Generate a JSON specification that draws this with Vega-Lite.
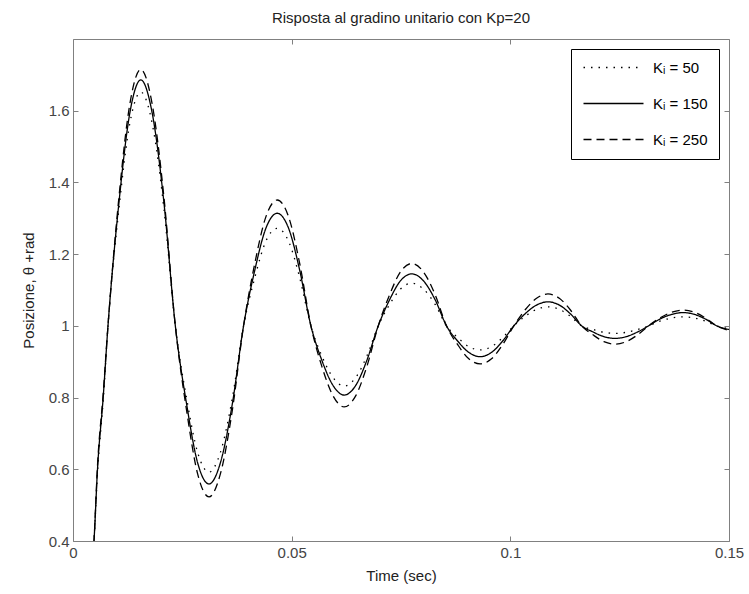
{
  "$schema": "https://vega.github.io/schema/vega-lite/v6.json",
  "width": 656,
  "height": 502,
  "autosize": {"type": "none"},
  "padding": {"left": 73, "top": 39, "right": 20, "bottom": 53},
  "background": "white",
  "title": {"text": "Risposta al gradino unitario con Kp=20", "fontSize": 15, "fontWeight": "normal", "font": "Liberation Sans", "color": "#222", "offset": 13},
  "config": {
    "view": {"stroke": "#808080", "strokeWidth": 1},
    "axis": {"domain": false, "grid": false, "ticks": true, "tickSize": -5, "tickColor": "#808080", "labelFlush": false, "labelFont": "Liberation Sans", "labelFontSize": 15, "labelColor": "#444", "titleFont": "Liberation Sans", "titleFontSize": 15, "titleFontWeight": "normal", "titleColor": "#222"}
  },
  "datasets": {
    "resp": [
      {"t":0.0,"v":0.0,"k":"150"},{"t":0.0025,"v":0.12,"k":"150"},{"t":0.004,"v":0.28,"k":"150"},{"t":0.0048,"v":0.40,"k":"150"},{"t":0.0056,"v":0.60,"k":"150"},{"t":0.0069,"v":0.80,"k":"150"},{"t":0.008,"v":1.0,"k":"150"},
      {"t":0.0105,"v":1.343,"k":"150"},{"t":0.013,"v":1.594,"k":"150"},{"t":0.0155,"v":1.686,"k":"150"},{"t":0.0181,"v":1.594,"k":"150"},{"t":0.0208,"v":1.343,"k":"150"},{"t":0.0234,"v":1.0,"k":"150"},
      {"t":0.026,"v":0.780,"k":"150"},{"t":0.0285,"v":0.618,"k":"150"},{"t":0.0311,"v":0.559,"k":"150"},{"t":0.0337,"v":0.618,"k":"150"},{"t":0.0364,"v":0.780,"k":"150"},{"t":0.039,"v":1.0,"k":"150"},
      {"t":0.0416,"v":1.157,"k":"150"},{"t":0.0441,"v":1.272,"k":"150"},{"t":0.0467,"v":1.314,"k":"150"},{"t":0.0493,"v":1.272,"k":"150"},{"t":0.0518,"v":1.157,"k":"150"},{"t":0.0544,"v":1.0,"k":"150"},
      {"t":0.0569,"v":0.904,"k":"150"},{"t":0.0595,"v":0.833,"k":"150"},{"t":0.062,"v":0.807,"k":"150"},{"t":0.0646,"v":0.833,"k":"150"},{"t":0.0672,"v":0.904,"k":"150"},{"t":0.0698,"v":1.0,"k":"150"},
      {"t":0.0724,"v":1.073,"k":"150"},{"t":0.0749,"v":1.126,"k":"150"},{"t":0.0775,"v":1.145,"k":"150"},{"t":0.0801,"v":1.126,"k":"150"},{"t":0.0828,"v":1.073,"k":"150"},{"t":0.0854,"v":1.0,"k":"150"},
      {"t":0.088,"v":0.957,"k":"150"},{"t":0.0905,"v":0.926,"k":"150"},{"t":0.0931,"v":0.914,"k":"150"},{"t":0.0957,"v":0.926,"k":"150"},{"t":0.0982,"v":0.957,"k":"150"},{"t":0.1008,"v":1.0,"k":"150"},
      {"t":0.1034,"v":1.034,"k":"150"},{"t":0.106,"v":1.058,"k":"150"},{"t":0.1086,"v":1.067,"k":"150"},{"t":0.1112,"v":1.058,"k":"150"},{"t":0.1137,"v":1.034,"k":"150"},{"t":0.1163,"v":1.0,"k":"150"},
      {"t":0.1189,"v":0.983,"k":"150"},{"t":0.1214,"v":0.970,"k":"150"},{"t":0.124,"v":0.965,"k":"150"},{"t":0.1265,"v":0.970,"k":"150"},{"t":0.1291,"v":0.983,"k":"150"},{"t":0.1316,"v":1.0,"k":"150"},
      {"t":0.1342,"v":1.019,"k":"150"},{"t":0.1369,"v":1.032,"k":"150"},{"t":0.1395,"v":1.037,"k":"150"},{"t":0.1421,"v":1.032,"k":"150"},{"t":0.1446,"v":1.019,"k":"150"},{"t":0.1472,"v":1.0,"k":"150"},{"t":0.15,"v":0.990,"k":"150"},

      {"t":0.0,"v":0.0,"k":"250"},{"t":0.0025,"v":0.12,"k":"250"},{"t":0.004,"v":0.28,"k":"250"},{"t":0.0048,"v":0.40,"k":"250"},{"t":0.0056,"v":0.61,"k":"250"},{"t":0.0069,"v":0.81,"k":"250"},{"t":0.008,"v":1.0,"k":"250"},
      {"t":0.0105,"v":1.358,"k":"250"},{"t":0.013,"v":1.619,"k":"250"},{"t":0.0155,"v":1.715,"k":"250"},{"t":0.0181,"v":1.619,"k":"250"},{"t":0.0208,"v":1.358,"k":"250"},{"t":0.0234,"v":1.0,"k":"250"},
      {"t":0.026,"v":0.762,"k":"250"},{"t":0.0285,"v":0.587,"k":"250"},{"t":0.0311,"v":0.523,"k":"250"},{"t":0.0337,"v":0.587,"k":"250"},{"t":0.0364,"v":0.762,"k":"250"},{"t":0.039,"v":1.0,"k":"250"},
      {"t":0.0416,"v":1.176,"k":"250"},{"t":0.0441,"v":1.304,"k":"250"},{"t":0.0467,"v":1.351,"k":"250"},{"t":0.0493,"v":1.304,"k":"250"},{"t":0.0518,"v":1.176,"k":"250"},{"t":0.0544,"v":1.0,"k":"250"},
      {"t":0.0569,"v":0.887,"k":"250"},{"t":0.0595,"v":0.804,"k":"250"},{"t":0.062,"v":0.774,"k":"250"},{"t":0.0646,"v":0.804,"k":"250"},{"t":0.0672,"v":0.887,"k":"250"},{"t":0.0698,"v":1.0,"k":"250"},
      {"t":0.0724,"v":1.087,"k":"250"},{"t":0.0749,"v":1.151,"k":"250"},{"t":0.0775,"v":1.174,"k":"250"},{"t":0.0801,"v":1.151,"k":"250"},{"t":0.0828,"v":1.087,"k":"250"},{"t":0.0854,"v":1.0,"k":"250"},
      {"t":0.088,"v":0.947,"k":"250"},{"t":0.0905,"v":0.908,"k":"250"},{"t":0.0931,"v":0.894,"k":"250"},{"t":0.0957,"v":0.908,"k":"250"},{"t":0.0982,"v":0.947,"k":"250"},{"t":0.1008,"v":1.0,"k":"250"},
      {"t":0.1034,"v":1.045,"k":"250"},{"t":0.106,"v":1.077,"k":"250"},{"t":0.1086,"v":1.089,"k":"250"},{"t":0.1112,"v":1.077,"k":"250"},{"t":0.1137,"v":1.045,"k":"250"},{"t":0.1163,"v":1.0,"k":"250"},
      {"t":0.1189,"v":0.975,"k":"250"},{"t":0.1214,"v":0.956,"k":"250"},{"t":0.124,"v":0.949,"k":"250"},{"t":0.1265,"v":0.956,"k":"250"},{"t":0.1291,"v":0.975,"k":"250"},{"t":0.1316,"v":1.0,"k":"250"},
      {"t":0.1342,"v":1.022,"k":"250"},{"t":0.1369,"v":1.038,"k":"250"},{"t":0.1395,"v":1.044,"k":"250"},{"t":0.1421,"v":1.038,"k":"250"},{"t":0.1446,"v":1.022,"k":"250"},{"t":0.1472,"v":1.0,"k":"250"},{"t":0.15,"v":0.987,"k":"250"},

      {"t":0.0,"v":0.0,"k":"50"},{"t":0.0025,"v":0.12,"k":"50"},{"t":0.004,"v":0.28,"k":"50"},{"t":0.0048,"v":0.40,"k":"50"},{"t":0.0056,"v":0.59,"k":"50"},{"t":0.0069,"v":0.79,"k":"50"},{"t":0.008,"v":1.0,"k":"50"},
      {"t":0.0105,"v":1.326,"k":"50"},{"t":0.013,"v":1.565,"k":"50"},{"t":0.0155,"v":1.652,"k":"50"},{"t":0.0181,"v":1.565,"k":"50"},{"t":0.0208,"v":1.326,"k":"50"},{"t":0.0234,"v":1.0,"k":"50"},
      {"t":0.026,"v":0.796,"k":"50"},{"t":0.0285,"v":0.647,"k":"50"},{"t":0.0311,"v":0.592,"k":"50"},{"t":0.0337,"v":0.647,"k":"50"},{"t":0.0364,"v":0.796,"k":"50"},{"t":0.039,"v":1.0,"k":"50"},
      {"t":0.0416,"v":1.136,"k":"50"},{"t":0.0441,"v":1.236,"k":"50"},{"t":0.0467,"v":1.272,"k":"50"},{"t":0.0493,"v":1.236,"k":"50"},{"t":0.0518,"v":1.136,"k":"50"},{"t":0.0544,"v":1.0,"k":"50"},
      {"t":0.0569,"v":0.916,"k":"50"},{"t":0.0595,"v":0.855,"k":"50"},{"t":0.062,"v":0.832,"k":"50"},{"t":0.0646,"v":0.855,"k":"50"},{"t":0.0672,"v":0.916,"k":"50"},{"t":0.0698,"v":1.0,"k":"50"},
      {"t":0.0724,"v":1.060,"k":"50"},{"t":0.0749,"v":1.103,"k":"50"},{"t":0.0775,"v":1.119,"k":"50"},{"t":0.0801,"v":1.103,"k":"50"},{"t":0.0828,"v":1.060,"k":"50"},{"t":0.0854,"v":1.0,"k":"50"},
      {"t":0.088,"v":0.967,"k":"50"},{"t":0.0905,"v":0.942,"k":"50"},{"t":0.0931,"v":0.933,"k":"50"},{"t":0.0957,"v":0.942,"k":"50"},{"t":0.0982,"v":0.967,"k":"50"},{"t":0.1008,"v":1.0,"k":"50"},
      {"t":0.1034,"v":1.027,"k":"50"},{"t":0.106,"v":1.046,"k":"50"},{"t":0.1086,"v":1.053,"k":"50"},{"t":0.1112,"v":1.046,"k":"50"},{"t":0.1137,"v":1.027,"k":"50"},{"t":0.1163,"v":1.0,"k":"50"},
      {"t":0.1189,"v":0.990,"k":"50"},{"t":0.1214,"v":0.982,"k":"50"},{"t":0.124,"v":0.979,"k":"50"},{"t":0.1265,"v":0.982,"k":"50"},{"t":0.1291,"v":0.990,"k":"50"},{"t":0.1316,"v":1.0,"k":"50"},
      {"t":0.1342,"v":1.013,"k":"50"},{"t":0.1369,"v":1.022,"k":"50"},{"t":0.1395,"v":1.025,"k":"50"},{"t":0.1421,"v":1.022,"k":"50"},{"t":0.1446,"v":1.013,"k":"50"},{"t":0.1472,"v":1.0,"k":"50"},{"t":0.15,"v":0.992,"k":"50"}
    ]
  },
  "layer": [
    {
      "data": {"name": "resp"},
      "mark": {"type": "line", "clip": true, "interpolate": "monotone", "strokeWidth": 1.3, "color": "black"},
      "encoding": {
        "x": {"field": "t", "type": "quantitative", "scale": {"domain": [0, 0.15], "nice": false, "zero": false},
              "axis": {"orient": "bottom", "values": [0, 0.05, 0.1, 0.15], "format": ".3~g", "title": "Time (sec)", "labelPadding": 9, "titlePadding": 8}},
        "y": {"field": "v", "type": "quantitative", "scale": {"domain": [0.4, 1.8], "nice": false, "zero": false},
              "axis": {"orient": "left", "values": [0.4, 0.6, 0.8, 1, 1.2, 1.4, 1.6], "format": ".3~g", "title": "Posizione, θ +rad", "labelPadding": 9, "titlePadding": 12}},
        "strokeDash": {"field": "k", "type": "nominal",
          "scale": {"domain": ["50", "150", "250"], "range": [[1.5, 6], [1, 0], [8, 5]]},
          "legend": {"orient": "top-right", "offset": 10, "title": null, "strokeColor": "black", "fillColor": "white", "padding": 11,
                     "symbolType": "M-1,0H9", "symbolSize": 144, "symbolStrokeWidth": 1.3, "symbolStrokeColor": "black", "symbolFillColor": "transparent",
                     "labelFont": "Liberation Sans", "labelFontSize": 15, "labelColor": "black", "rowPadding": 20, "labelOffset": 56,
                     "labelExpr": "'Kᵢ = ' + datum.label"}}
      }
    },
    {
      "mark": {"type": "rule", "color": "black", "strokeDash": [1.5, 6], "strokeWidth": 1.3},
      "encoding": {"y": {"datum": 1, "type": "quantitative", "axis": null}}
    },
    {
      "data": {"name": "resp"},
      "mark": {"type": "line", "opacity": 0},
      "encoding": {
        "x": {"field": "t", "type": "quantitative", "axis": {"orient": "top", "values": [0, 0.05, 0.1, 0.15], "labels": false, "title": null}},
        "y": {"field": "v", "type": "quantitative", "axis": {"orient": "right", "values": [0.4, 0.6, 0.8, 1, 1.2, 1.4, 1.6], "labels": false, "title": null}},
        "detail": {"field": "k"}
      }
    }
  ],
  "resolve": {"axis": {"x": "independent", "y": "independent"}}
}
